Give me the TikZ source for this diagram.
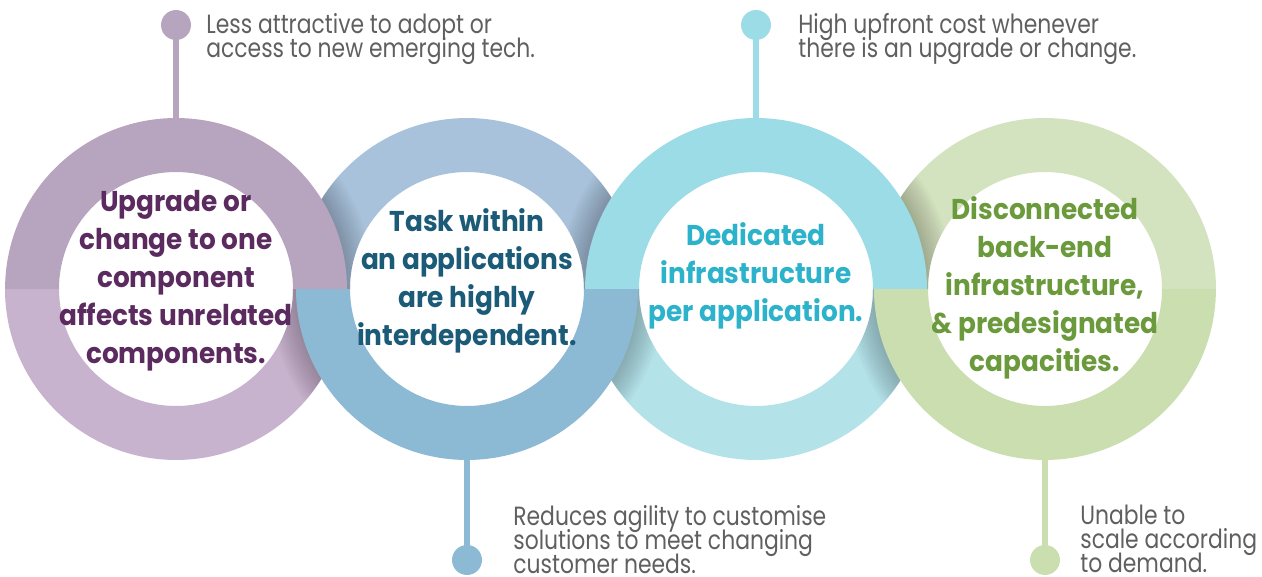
\documentclass[tikz,border=0pt]{standalone}
\usepackage{fontspec}
\setmainfont{Poppins}
\newfontfamily\notefont[FakeStretch=0.83]{Poppins}
\newfontfamily\ringfont[FakeStretch=0.92]{Poppins}
\usetikzlibrary{positioning,calc}

\definecolor{purpleup}{HTML}{B7A4BF}
\definecolor{purpledn}{HTML}{C8B3CE}
\definecolor{purpletxt}{HTML}{5B2B5F}
\definecolor{blueup}{HTML}{A9C2DB}
\definecolor{bluedn}{HTML}{8CB9D4}
\definecolor{bluetxt}{HTML}{1B5B77}
\definecolor{cyanup}{HTML}{9BDCE7}
\definecolor{cyandn}{HTML}{B4E2E9}
\definecolor{cyantxt}{HTML}{2CB2CB}
\definecolor{greenup}{HTML}{D4E3BF}
\definecolor{greendn}{HTML}{CBDEB0}
\definecolor{greentxt}{HTML}{6A9A3B}
\definecolor{notegray}{HTML}{5F5F5F}

% half of a ring: #1 centre node, #2 start angle (0 top, 180 bottom), #3 path options
\newcommand{\halfring}[3]{\path[#3] ($(#1)+(#2:171)$) arc[start angle=#2,delta angle=180,radius=3.42cm] -- ($(#1)+(#2+180:117)$) arc[start angle=#2+180,delta angle=-180,radius=2.34cm] -- cycle;}
% shadow of ring #3 falling on half #2 of ring #1
\newcommand{\ringshade}[3]{\begin{scope}\halfring{#1}{#2}{clip}\foreach \s in {1,...,12} {\fill[black,opacity=0.018] (#3) circle[radius=3.42cm+\s*0.45mm];}\end{scope}}
% small grey note lines, set closer than the font would like
\newcommand{\notelines}{\notefont\fontsize{15}{13.7}\selectfont\setlength{\lineskiplimit}{-20pt}}

\begin{document}
\begin{tikzpicture}[x=0.02cm,y=0.02cm,
    ringpos/.style={circle,minimum size=6.84cm,inner sep=0pt,outer sep=0pt},
    dot/.style={circle,minimum size=0.6cm,inner sep=0pt},
    stem/.style={line width=3.4pt},
    ringtext/.style={align=center,font=\ringfont\bfseries\fontsize{16.3}{21.6}\selectfont},
    note/.style={align=left,anchor=north west,inner sep=0pt,text=notegray,font=\notelines}]

\useasboundingbox (0,0) rectangle (1262,576);

\node[ringpos] (R1) at (176,287) {};
\node[ringpos] (R2) at (467,287) {};
\node[ringpos] (R3) at (756,287) {};
\node[ringpos] (R4) at (1045,287) {};

\node[dot,fill=purpleup] (D1) at (176,551) {};
\node[dot,fill=bluedn] (D2) at (467,16) {};
\node[dot,fill=cyanup] (D3) at (756,551) {};
\node[dot,fill=greendn] (D4) at (1045,16) {};

\draw[stem,purpleup] (D1.center) -- (R1.north);
\draw[stem,bluedn] (D2.center) -- (R2.south);
\draw[stem,cyanup] (D3.center) -- (R3.north);
\draw[stem,greendn] (D4.center) -- (R4.south);

%%%%%%%%%%%%%%%%%%%%%% RINGS, lower halves first

\halfring{R1}{180}{fill=purpledn}
\halfring{R3}{180}{fill=cyandn}
\halfring{R2}{0}{fill=blueup}
\halfring{R4}{0}{fill=greenup}

\ringshade{R2}{0}{R1}
\ringshade{R2}{0}{R3}
\ringshade{R4}{0}{R3}
\ringshade{R1}{180}{R2}
\ringshade{R3}{180}{R2}
\ringshade{R3}{180}{R4}

\halfring{R1}{0}{fill=purpleup}
\halfring{R3}{0}{fill=cyanup}
\halfring{R2}{180}{fill=bluedn}
\halfring{R4}{180}{fill=greendn}

%%%%%%%%%%%%%%%%%%%%%% TEXTS

\node[ringtext,text=purpletxt] (T1) at ($(R1)+(0,8)$) {Upgrade or\\change to one\\component\\affects unrelated\\components.};
\node[ringtext,text=bluetxt] (T2) at ($(R2)+(0,8)$) {Task within\\an applications\\are highly\\interdependent.};
\node[ringtext,text=cyantxt] (T3) at ($(R3)+(0,13)$) {Dedicated\\infrastructure\\per application.};
\node[ringtext,text=greentxt] (T4) at ($(R4)+(0,1)$) {Disconnected\\back-end\\infrastructure,\\\& predesignated\\capacities.};

\node[note] (N1) at (206,563) {Less attractive to adopt or\\access to new emerging tech.};
\node[note] (N3) at (798,563) {High upfront cost whenever\\there is an upgrade or change.};
\node[note] (N2) at (513,71) {Reduces agility to customise\\solutions to meet changing\\customer needs.};
\node[note] (N4) at (1080,71) {Unable to\\scale according\\to demand.};

\end{tikzpicture}
\end{document}
